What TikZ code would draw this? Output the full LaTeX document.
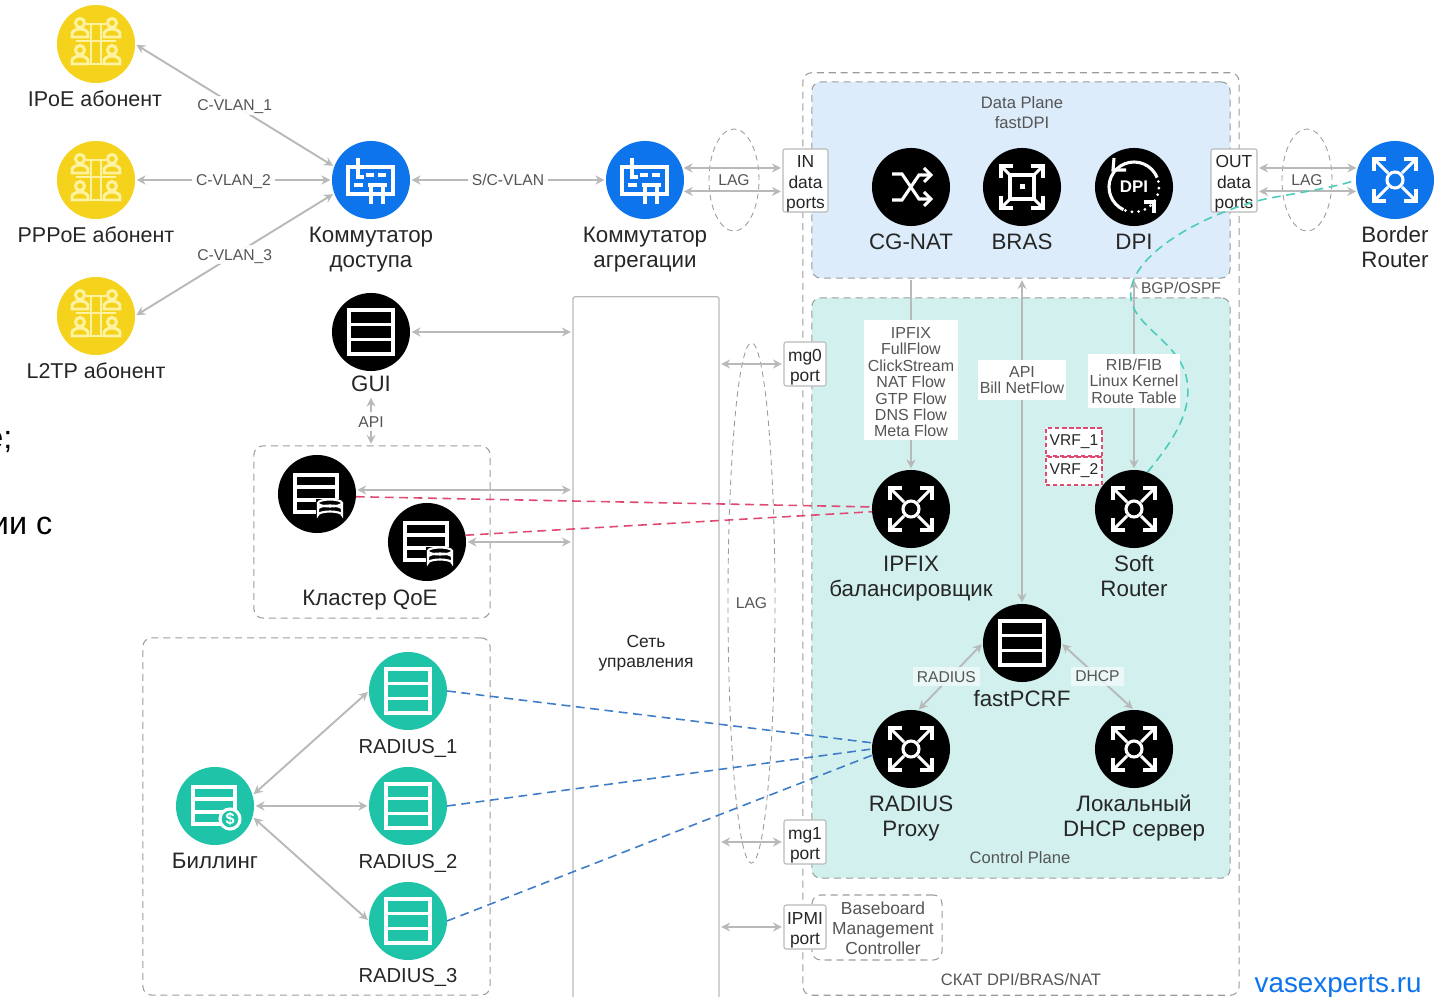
\documentclass[tikz,border=0pt]{standalone}
\usepackage{fontspec}
\setmainfont{Liberation Sans}
\usetikzlibrary{arrows.meta,shapes.geometric}
\definecolor{linkgray}{HTML}{B8BABA}
\definecolor{dashgray}{HTML}{9C9C9C}
\definecolor{subyellow}{HTML}{F5D31C}
\definecolor{subline}{HTML}{FFF2A0}
\definecolor{swblue}{HTML}{0E74EC}
\definecolor{radteal}{HTML}{1FC4A8}
\definecolor{dataplane}{HTML}{DCECFB}
\definecolor{ctrlplane}{HTML}{D2F1EE}
\definecolor{redlink}{HTML}{DE4A72}
\definecolor{bluelink}{HTML}{3F7CC8}
\definecolor{teallink}{HTML}{4CCBBD}
\definecolor{inktext}{HTML}{262626}
\definecolor{graytext}{HTML}{555555}
\newcommand\capfont{\fontsize{6.35}{7.1}\selectfont}
\newcommand\subfont{\fontsize{6.1}{7.1}\selectfont}
\newcommand\radfont{\fontsize{5.75}{7.1}\selectfont}
\newcommand\portfont{\fontsize{4.95}{5.7}\selectfont}
\newcommand\planefont{\fontsize{4.72}{5.7}\selectfont}
\newcommand\tagfont{\fontsize{4.45}{5.7}\selectfont}
\newcommand\listfont{\fontsize{4.55}{4.65}\selectfont}
\newcommand\topgap[1]{\rule{0pt}{#1}}
\tikzset{
    station/.style={circle,minimum size=0.78cm,inner sep=0pt,outer sep=0pt},
    caption/.style={font=\capfont,text=inktext,align=center,inner sep=0pt},
    subcaption/.style={caption,font=\subfont},
    radcaption/.style={caption,font=\radfont},
    small/.style={font=\planefont,text=graytext,align=center,inner sep=0pt},
    tag/.style={font=\tagfont,text=graytext,fill=white,fill opacity=0.9,text opacity=1,inner sep=1.2pt,text depth=0pt},
    listbox/.style={font=\listfont,text=graytext,fill=white,align=center,inner sep=0pt},
    port/.style={draw=linkgray,fill=white,line width=0.3pt,rounded corners=0.6pt,font=\portfont,text=inktext,align=center,inner sep=0pt},
    vrfbox/.style={draw=redlink,dashed,dash pattern=on 1.2pt off 0.8pt,fill=white,line width=0.3pt,font=\tagfont,text=inktext,inner sep=0pt,minimum width=0.56cm,minimum height=0.28cm},
    dashbox/.style={draw=dashgray,line width=0.3pt,dash pattern=on 2pt off 1.4pt,rounded corners=2.5pt,inner sep=0pt},
    lagoval/.style={ellipse,draw=dashgray,line width=0.25pt,dash pattern=on 1.6pt off 1.2pt,font=\tagfont,text=graytext,inner sep=0pt},
    link/.style={draw=linkgray,line width=0.55pt,<->,>={Stealth[length=0.09cm,width=0.09cm]},shorten >=0.015cm,shorten <=0.015cm},
    dashlink/.style={line width=0.45pt,dash pattern=on 2.5pt off 1.6pt},
    iconline/.style={draw=white,line width=0.88pt},
    subsline/.style={draw=subline,line width=0.85pt},
    routericon/.pic={
        \draw[iconline] (0,0) circle (8);
        \foreach \sx/\sy in {1/1,1/-1,-1/1,-1/-1}{
            \draw[iconline] (\sx*7,\sy*7)--(\sx*21,\sy*21);
            \draw[iconline] (\sx*21,\sy*9)--(\sx*21,\sy*21)--(\sx*9,\sy*21);
        }
    },
    brasicon/.pic={
        \draw[iconline] (-12,-12) rectangle (12,12);
        \fill[white] (-2.5,-2.5) rectangle (2.5,2.5);
        \foreach \sx/\sy in {1/1,1/-1,-1/1,-1/-1}{
            \draw[iconline] (\sx*12,\sy*12)--(\sx*21,\sy*21);
            \draw[iconline] (\sx*21,\sy*9)--(\sx*21,\sy*21)--(\sx*9,\sy*21);
        }
    },
    shuffleicon/.pic={
        \draw[iconline] (-19,-13)--(-9,-13)--(8,12)--(19,12);
        \draw[iconline] (-19,13)--(-9,13)--(8,-12)--(19,-12);
        \draw[iconline] (13,-19)--(20,-12)--(13,-5);
        \draw[iconline] (13,5)--(20,12)--(13,19);
    },
    dpiicon/.pic={
        \draw[iconline] (-22:25) arc[start angle=-22,end angle=-245,radius=25];
        \draw[iconline,line cap=round,dash pattern=on 0pt off 1.9pt] (-250:25) arc[start angle=-250,end angle=-385,radius=25];
        \draw[iconline] (-20,-29)--(-21,-17)--(-8,-17);
        \draw[iconline] (10,15)--(20,15)--(20,26);
        \node[font=\fontsize{4.8}{5}\selectfont\bfseries,text=white,inner sep=0pt] at (0,0) {DPI};
    },
    servericon/.pic={
        \draw[iconline] (-22,-22) rectangle (22,22);
        \draw[iconline] (-22,-7.5)--(22,-7.5);
        \draw[iconline] (-22,7.5)--(22,7.5);
    },
    qoeicon/.pic={
        \draw[iconline] (-22,-19) rectangle (20,18);
        \draw[iconline] (-22,-7)--(20,-7);
        \draw[iconline] (-22,6)--(20,6);
        \fill[black] (-1,5) rectangle (27,26);
        \draw[iconline,line width=0.6pt] (1,9)--(1,21) arc[start angle=180,end angle=0,x radius=12,y radius=-3.5]--(25,9);
        \draw[iconline,line width=0.6pt] (13,9) ellipse (12 and 3.5);
        \draw[iconline,line width=0.6pt] (1,15) arc[start angle=180,end angle=0,x radius=12,y radius=-3.5];
    },
    billicon/.pic={
        \draw[iconline] (-22,-19) rectangle (20,18);
        \draw[iconline] (-22,-7)--(20,-7);
        \draw[iconline] (-22,6)--(12,6);
        \draw[iconline,fill=radteal] (15,13) circle (10);
        \node[font=\fontsize{4.6}{5}\selectfont\bfseries,text=white,inner sep=0pt] at (15,13) {\$};
    },
    switchicon/.pic={
        \draw[iconline] (-23,-13) rectangle (22,14);
        \draw[iconline] (-13,-22)--(-13,-3)--(-7,-3);
        \draw[iconline] (-5,-5)--(3,-5);
        \draw[iconline] (7,-5)--(15,-5);
        \draw[iconline] (-17,5)--(-8,5);
        \draw[iconline] (-3,5)--(16,5);
        \draw[iconline] (0,5)--(0,24);
        \draw[iconline] (12,5)--(12,24);
    },
    subsicon/.pic={
        \foreach \sx in {-1,1}{
            \foreach \sy in {-21,6}{
                \draw[subsline] (\sx*16,\sy) circle (4.5);
                \draw[subsline] (\sx*16-8,\sy+14)--(\sx*16-8,\sy+11) arc[start angle=180,end angle=0,x radius=8,y radius=-5]--(\sx*16+8,\sy+14)--cycle;
            }
            \draw[subsline] (\sx*5,-20)--(\sx*5,20);
        }
        \draw[subsline] (-10,-20)--(10,-20);
        \draw[subsline] (-20,-3)--(20,-3);
        \draw[subsline] (-10,20)--(10,20);
    },
}
\begin{document}
\begin{tikzpicture}[x=0.01cm,y=-0.01cm]
            \useasboundingbox (0,0) rectangle (1444,997);
            % Containers
            \node[dashbox,minimum width=4.36cm,minimum height=9.22cm] (skat) at (1021,534) {};
            \node[dashbox,fill=dataplane,minimum width=4.18cm,minimum height=1.96cm] (dplane) at (1021,180) {};
            \node[dashbox,fill=ctrlplane,minimum width=4.18cm,minimum height=5.8cm] (cplane) at (1021,588) {};
            \node[dashbox,minimum width=1.3cm,minimum height=0.65cm] (bmc) at (877,927.5) {};
            \node[dashbox,minimum width=2.36cm,minimum height=1.72cm] (qoebox) at (372,532) {};
            \node[dashbox,minimum width=3.47cm,minimum height=3.57cm] (billbox) at (316.5,816.5) {};
            \node[draw=linkgray,line width=0.35pt,rounded corners=0.5pt,minimum width=1.46cm,minimum height=7.05cm,font=\portfont,text=inktext,align=center,inner sep=0pt] (net) at (646,649.5) {\topgap{5.5pt}Сеть\\управления};
            % Subscribers and switches
            \node[station,fill=subyellow] (ipoe) at (96,44) {};
            \node[station,fill=subyellow] (pppoe) at (96,180) {};
            \node[station,fill=subyellow] (ltp) at (96,316) {};
            \node[station,fill=swblue] (access) at (371,180) {};
            \node[station,fill=swblue] (aggr) at (645,180) {};
            \node[station,fill=swblue] (border) at (1395,180) {};
            \pic at (ipoe) {subsicon};
            \pic at (pppoe) {subsicon};
            \pic at (ltp) {subsicon};
            \pic at (access) {switchicon};
            \pic at (aggr) {switchicon};
            \pic at (border) {routericon};
            % Management side
            \node[station,fill=black] (gui) at (371,332) {};
            \node[station,fill=black] (qoea) at (317,494) {};
            \node[station,fill=black] (qoeb) at (427,542) {};
            \node[station,fill=radteal] (bill) at (215,806) {};
            \node[station,fill=radteal] (rada) at (408,691) {};
            \node[station,fill=radteal] (radb) at (408,806) {};
            \node[station,fill=radteal] (radc) at (408,921) {};
            \pic at (gui) {servericon};
            \pic at (qoea) {qoeicon};
            \pic at (qoeb) {qoeicon};
            \pic at (bill) {billicon};
            \pic at (rada) {servericon};
            \pic at (radb) {servericon};
            \pic at (radc) {servericon};
            % Inside the platform
            \node[station,fill=black] (cgnat) at (911,187) {};
            \node[station,fill=black] (bras) at (1022,187) {};
            \node[station,fill=black] (dpi) at (1134,187) {};
            \node[station,fill=black] (ipfix) at (911,509) {};
            \node[station,fill=black] (soft) at (1134,509) {};
            \node[station,fill=black] (pcrf) at (1022,643) {};
            \node[station,fill=black] (proxy) at (911,749) {};
            \node[station,fill=black] (dhcp) at (1134,749) {};
            \pic at (cgnat) {shuffleicon};
            \pic at (bras) {brasicon};
            \pic at (dpi) {dpiicon};
            \pic at (ipfix) {routericon};
            \pic at (soft) {routericon};
            \pic at (pcrf) {servericon};
            \pic at (proxy) {routericon};
            \pic at (dhcp) {routericon};
            % Captions
            \node[subcaption] (ipoetxt) at (95,98.5) {IPoE абонент};
            \node[subcaption] (pppoetxt) at (96,235) {PPPoE абонент};
            \node[subcaption] (ltptxt) at (96,371) {L2TP абонент};
            \node[caption] (accesstxt) at (371,250) {Коммутатор\\доступа};
            \node[caption] (aggrtxt) at (645,250) {Коммутатор\\агрегации};
            \node[caption] (bordertxt) at (1395,247.5) {Border\\Router};
            \node[caption] (guitxt) at (371,384) {GUI};
            \node[caption] (qoetxt) at (370,600) {Кластер QoE};
            \node[caption] (billtxt) at (215,861) {Биллинг};
            \node[radcaption] (radatxt) at (408,748) {RADIUS\_1};
            \node[radcaption] (radbtxt) at (408,863) {RADIUS\_2};
            \node[radcaption] (radctxt) at (408,977) {RADIUS\_3};
            \node[caption] (cgnattxt) at (911,242) {CG-NAT};
            \node[caption] (brastxt) at (1022,242) {BRAS};
            \node[caption] (dpitxt) at (1134,242) {DPI};
            \node[caption] (ipfixtxt) at (911,578.5) {IPFIX\\балансировщик};
            \node[caption] (softtxt) at (1134,576.5) {Soft\\Router};
            \node[caption] (pcrftxt) at (1022,699) {fastPCRF};
            \node[caption] (proxytxt) at (911,818.5) {RADIUS\\Proxy};
            \node[caption] (dhcptxt) at (1134,818) {Локальный\\DHCP сервер};
            \node[small] (dptxt) at (1022,112.5) {Data Plane\\fastDPI};
            \node[small] (cptxt) at (1020,858) {Control Plane};
            \node[small,font=\portfont] (bmctxt) at (883,928) {Baseboard\\Management\\Controller};
            \node[small] (skattxt) at (1021,980) {СКАТ DPI/BRAS/NAT};
            \node[small,font=\tagfont] (bgptxt) at (1181,288) {BGP/OSPF};
            % Ports
            \node[port,minimum width=0.45cm,minimum height=0.63cm] (inport) at (805.5,180.5) {\topgap{5.3pt}IN\\data\\ports};
            \node[port,minimum width=0.46cm,minimum height=0.63cm] (outport) at (1234,180.5) {\topgap{5.3pt}OUT\\data\\ports};
            \node[port,minimum width=0.42cm,minimum height=0.44cm] (mgzero) at (805,364) {\topgap{5.3pt}mg0\\port};
            \node[port,minimum width=0.42cm,minimum height=0.44cm] (mgone) at (805,842) {\topgap{5.3pt}mg1\\port};
            \node[port,minimum width=0.42cm,minimum height=0.44cm] (ipmi) at (805,927) {\topgap{5.3pt}IPMI\\port};
            % LAG rings
            \node[lagoval,minimum width=0.5cm,minimum height=1.02cm] (lagin) at (734,180) {LAG};
            \node[lagoval,minimum width=0.5cm,minimum height=1.02cm] (lagout) at (1307,180) {LAG};
            \node[lagoval,minimum width=0.47cm,minimum height=5.2cm] (lagmg) at (751.5,603) {LAG};
            % Gray links
            \draw[link] (ipoe.east)--node[tag]{C-VLAN\_1}(access.160);
            \draw[link] (pppoe.east)--node[tag]{C-VLAN\_2}(access.west);
            \draw[link] (ltp.east)--node[tag]{C-VLAN\_3}(access.200);
            \draw[link] (access.east)--node[tag]{S/C-VLAN}(aggr.west);
            \draw[link] (aggr.18)--(aggr.18 -| inport.west);
            \draw[link] (aggr.-17)--(aggr.-17 -| inport.west);
            \draw[link] (outport.east |- border.162)--(border.162);
            \draw[link] (outport.east |- border.197)--(border.197);
            \draw[link] (gui.east)--(gui.east -| net.west);
            \draw[link,shorten <=0.05cm] (guitxt.south)--node[tag,pos=0.55]{API}(qoebox.north -| guitxt.south);
            \draw[link] (qoea.6)--(qoea.6 -| net.west);
            \draw[link] (qoeb.east)--(qoeb.east -| net.west);
            \draw[link] (net.east |- mgzero.west)--(mgzero.west);
            \draw[link] (net.east |- mgone.west)--(mgone.west);
            \draw[link] (net.east |- ipmi.west)--(ipmi.west);
            \draw[link] (bill.16)--(rada.west);
            \draw[link] (bill.east)--(radb.west);
            \draw[link] (bill.-16)--(radc.west);
            \draw[link,->] (dplane.south -| ipfix.north)--(ipfix.north);
            \draw[link] (dplane.south -| pcrf.north)--(pcrf.north);
            \draw[link] (dplane.south -| soft.north)--(soft.north);
            \draw[link] (pcrf.west)--node[tag,fill=ctrlplane!40!white,xshift=-0.04cm]{RADIUS}(proxy.80);
            \draw[link] (pcrf.east)--node[tag,fill=ctrlplane!40!white]{DHCP}(dhcp.north);
            % Dashed sessions
            \draw[dashlink,redlink] (qoea.-4)--(ipfix.177);
            \draw[dashlink,redlink] (qoeb.10)--(ipfix.184);
            \draw[dashlink,bluelink] (rada.east)--(proxy.171);
            \draw[dashlink,bluelink] (radb.east)--(proxy.west);
            \draw[dashlink,bluelink] (radc.east)--(proxy.189);
            \draw[dashlink,teallink] (soft.70) .. controls (1178,435) and (1195,405) .. (1185,372) .. controls (1172,335) and (1122,322) .. (1132,285) .. controls (1142,245) and (1220,208) .. (1270,198) .. controls (1310,191) and (1340,186) .. (border.west);
            % Text boxes on the links
            \node[listbox,minimum width=0.94cm,minimum height=1.2cm] (flows) at (911,380) {\topgap{4.4pt}IPFIX\\FullFlow\\ClickStream\\NAT Flow\\GTP Flow\\DNS Flow\\Meta Flow};
            \node[listbox,minimum width=0.88cm,minimum height=0.4cm] (apibox) at (1022,380) {API\\Bill NetFlow};
            \node[listbox,minimum width=0.92cm,minimum height=0.54cm] (ribbox) at (1134,381) {RIB/FIB\\Linux Kernel\\Route Table};
            \node[vrfbox] (vrfa) at (1074,442) {VRF\_1};
            \node[vrfbox] (vrfb) at (1074,471) {VRF\_2};
            % Text from the page around the picture
            \node[anchor=base east,font=\fontsize{9.2}{10}\selectfont,text=black,inner sep=0pt] (pagea) at (13,449) {е;};
            \node[anchor=base east,font=\fontsize{9.2}{10}\selectfont,text=black,inner sep=0pt] (pageb) at (53,535) {ии с};
            \node[anchor=base west,font=\fontsize{7.9}{9}\selectfont,text=swblue,inner sep=0pt] (site) at (1254,993) {vasexperts.ru};
        \end{tikzpicture}
\end{document}
